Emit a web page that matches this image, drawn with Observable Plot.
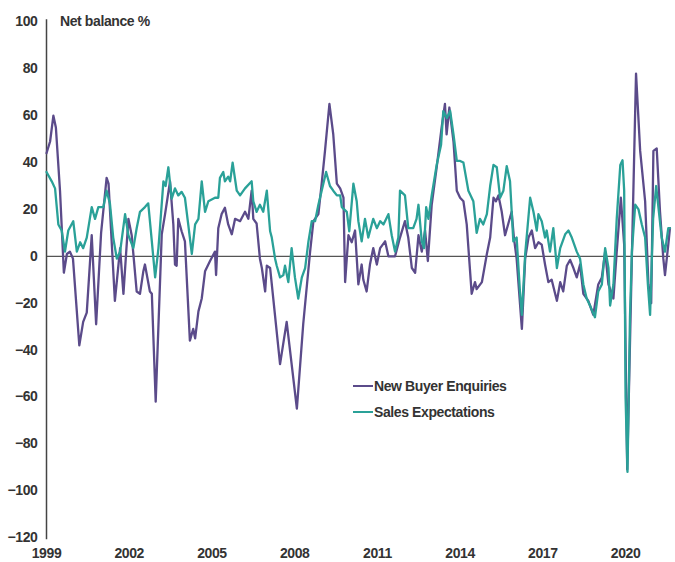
<!DOCTYPE html>
<html><head><meta charset="utf-8">
<script src="https://cdn.jsdelivr.net/npm/d3@7"></script>
<script src="https://cdn.jsdelivr.net/npm/@observablehq/plot@0.6"></script>
<style>
body{margin:0;background:#fff}
#wrap{position:relative;width:675px;height:562px;overflow:hidden;font-family:"Liberation Sans",Arial,sans-serif;font-weight:bold;color:#333}
#wrap svg{position:absolute;left:0;top:0}
.ov{position:absolute;font-size:14px;line-height:18px;white-space:nowrap;letter-spacing:-0.4px}
.sw{display:inline-block;width:20px;height:2px;vertical-align:middle;margin-right:1px;position:relative;top:-1px}
</style></head>
<body><div id="wrap"></div>
<script>
const seriesNames = ["New Buyer Enquiries", "Sales Expectations"];
const seriesColors = ["#5B4B8A", "#2AA198"];
const yTicks = [-120,-100,-80,-60,-40,-20,0,20,40,60,80,100];
const xTicks = [1999,2002,2005,2008,2011,2014,2017,2020];
const yLabel = "Net balance %";

const nbeYears = [
1999.00,1999.13,1999.25,1999.34,1999.49,1999.63,1999.74,1999.85,1999.96,2000.19,
2000.33,2000.46,2000.64,2000.80,2000.98,2001.18,2001.25,2001.48,2001.67,2001.79,
2001.97,2002.09,2002.27,2002.39,2002.51,2002.57,2002.75,2002.82,2002.96,2003.18,
2003.30,2003.48,2003.60,2003.66,2003.72,2003.78,2003.90,2004.02,2004.20,2004.32,
2004.39,2004.51,2004.63,2004.75,2004.93,2005.11,2005.15,2005.23,2005.35,2005.47,
2005.59,2005.72,2005.84,2006.02,2006.20,2006.32,2006.44,2006.50,2006.62,2006.74,
2006.81,2006.93,2006.99,2007.11,2007.47,2007.71,2008.08,2008.31,2008.56,2008.68,
2008.86,2008.98,2009.10,2009.26,2009.40,2009.53,2009.65,2009.77,2009.83,2009.95,
2010.07,2010.19,2010.31,2010.43,2010.49,2010.61,2010.73,2010.85,2010.98,2011.10,
2011.28,2011.40,2011.64,2011.82,2012.00,2012.12,2012.25,2012.37,2012.49,2012.61,
2012.73,2012.83,2012.97,2013.15,2013.33,2013.45,2013.51,2013.61,2013.76,2013.88,
2014.00,2014.12,2014.24,2014.42,2014.54,2014.60,2014.79,2014.97,2015.09,2015.21,
2015.30,2015.39,2015.51,2015.63,2015.75,2015.87,2015.95,2016.05,2016.24,2016.36,
2016.48,2016.60,2016.72,2016.84,2016.96,2017.08,2017.20,2017.32,2017.51,2017.63,
2017.74,2017.87,2017.99,2018.11,2018.23,2018.35,2018.47,2018.65,2018.83,2019.01,
2019.14,2019.26,2019.38,2019.56,2019.68,2019.83,2019.95,2020.06,2020.23,2020.38,
2020.53,2020.71,2020.83,2020.93,2021.01,2021.13,2021.25,2021.37,2021.43,2021.55,2021.61];
const nbeValues = [
44,49,60,55,28,-7,1,2,-1,-38,
-28,-24,9,-29,10,33.5,31,-19,3.5,-16,
16,9,-15,-16,-6.5,-3.5,-15,-16,-62,9.4,
18,32,13.6,-3.5,-4,16,10.7,6.4,-36,-31,
-35,-23.5,-18,-6.4,-2,2,-8,12,18,20.7,
13.6,9.4,16,15,19,16,28,16,14,-1,
-5,-15,-4,-5,-46,-28,-65,-29,2,15,
18,31,45,65,52,31,29,25,-11,9,
6,11,-12,-3.5,-10,-15,-3.5,3.5,-3.5,3.5,
6.4,0,0,8,15,8,-5,-7,9,2,
11,-2,22,38,55,65,52,63.5,49,28,
25,23.5,13.6,-16,-11,-14,-11,1,8,25,
23.5,26,19,9,14,19,8,-1,-31,-1,
8,11,3.5,6,5,-3.5,-11,-10,-19,-11,
-15,-4,-1.5,-5,-9,-3.5,-16,-19,-25,-12,
-9,2,-12,-18,2,25,5,-91,0,78,
45,23.5,-12,-20,45,46,19,-1,-8,5,12];

const seYears = [
1999.00,1999.19,1999.31,1999.43,1999.55,1999.67,1999.79,1999.97,2000.10,2000.22,
2000.33,2000.46,2000.64,2000.76,2000.88,2001.06,2001.18,2001.30,2001.42,2001.55,
2001.67,2001.85,2001.97,2002.15,2002.27,2002.39,2002.57,2002.69,2002.82,2002.94,
2003.06,2003.24,2003.32,2003.42,2003.54,2003.66,2003.78,2003.90,2004.02,2004.14,
2004.27,2004.39,2004.51,2004.63,2004.75,2004.87,2005.11,2005.23,2005.29,2005.41,
2005.47,2005.59,2005.66,2005.75,2005.90,2006.02,2006.20,2006.44,2006.50,2006.62,
2006.74,2006.86,2006.99,2007.11,2007.17,2007.29,2007.35,2007.47,2007.59,2007.65,
2007.77,2007.89,2008.01,2008.13,2008.26,2008.38,2008.50,2008.62,2008.74,2008.86,
2008.98,2009.14,2009.28,2009.40,2009.53,2009.65,2009.71,2009.89,2009.98,2010.13,
2010.25,2010.31,2010.43,2010.55,2010.67,2010.85,2010.98,2011.10,2011.22,2011.40,
2011.52,2011.64,2011.76,2011.82,2012.00,2012.12,2012.30,2012.42,2012.49,2012.61,
2012.69,2012.77,2012.85,2012.97,2013.15,2013.31,2013.39,2013.52,2013.64,2013.76,
2013.88,2014.00,2014.12,2014.30,2014.48,2014.60,2014.72,2014.84,2014.97,2015.09,
2015.21,2015.33,2015.45,2015.57,2015.69,2015.81,2015.93,2016.05,2016.17,2016.24,
2016.36,2016.54,2016.66,2016.78,2016.84,2016.96,2017.08,2017.14,2017.26,2017.38,
2017.51,2017.63,2017.81,2017.93,2018.05,2018.23,2018.35,2018.47,2018.59,2018.71,
2018.89,2019.01,2019.14,2019.26,2019.38,2019.44,2019.56,2019.68,2019.81,2019.89,
2019.95,2020.00,2020.07,2020.16,2020.23,2020.35,2020.47,2020.59,2020.71,2020.81,
2020.89,2021.00,2021.11,2021.31,2021.43,2021.55,2021.61];
const seValues = [
36,32,29,13.6,11,2,11,15,2,6,
3.5,8,21,16,21,21,28,22.6,8,-1,
2,18,9,3.5,12,19,21,22.6,6.4,-9,
3.5,32,30,38,24.6,29,26,27.5,25,13.6,
1,13.6,16,32,19,23.5,25,25,33.5,36,
32,34,32,40,28,26,29,32,23.5,19,
22,19,28,10.7,8,-1,-4,-9,-8,-4,
-11,3.5,-9,-18,-9,-5,6.4,15,15,22,
28,36,30,28,26,26,21,19,10.7,31,
23.5,15,6.4,16,8,16,12,15,13.6,18,
9,2,8,28,26,12,12,16,22,6.4,
3.5,21,16,26,39,47.6,62,59,62,52,
40.7,40.7,40,28,23.5,10,16,13.6,18,30,
39,38,25,28,38.5,32,6.4,8,-15,-25,
1,25,19,11,18,15,8,11,2,12,
-5,3.5,9.4,11,8,2,-1,-12,-18,-21,
-26,-15,-12,3.5,-5,-21,-12,16,39,41,
28,-60,-92,-26,2,22,20,13.6,8,-12,
-25,16,30,8,2,12,12];

const nbe = nbeYears.map((t, i) => ({t, v: nbeValues[i]}));
const se = seYears.map((t, i) => ({t, v: seValues[i]}));

const chart = Plot.plot({
  width: 675, height: 562,
  marginLeft: 46, marginRight: 5, marginTop: 21.5, marginBottom: 25,
  style: {fontFamily: '"Liberation Sans",Arial,sans-serif', fontSize: "14px", fontWeight: "bold", color: "#333", background: "transparent", letterSpacing: "-0.4px"},
  x: {domain: [1999, 2021.63], ticks: xTicks, tickFormat: d => String(d), tickSize: 0, tickPadding: 11, label: null},
  y: {domain: [-120, 100], ticks: yTicks, tickSize: 0, tickPadding: 9, label: null},
  marks: [
    Plot.ruleY([0], {stroke: "#555", strokeWidth: 1.2}),
    Plot.ruleX([1999], {y1: -121, y2: 101, stroke: "#444", strokeWidth: 1.5}),
    Plot.line(nbe, {x: "t", y: "v", stroke: seriesColors[0], strokeWidth: 2.3, strokeLinejoin: "round"}),
    Plot.line(se, {x: "t", y: "v", stroke: seriesColors[1], strokeWidth: 2.3, strokeLinejoin: "round"})
  ]
});
const wrap = document.getElementById("wrap");
wrap.appendChild(chart);

const yl = document.createElement("div");
yl.className = "ov"; yl.textContent = yLabel;
yl.style.left = "60px"; yl.style.top = "12px";
wrap.appendChild(yl);

const legTops = [377, 403];
seriesNames.forEach((name, i) => {
  const d = document.createElement("div");
  d.className = "ov";
  d.style.left = "353px"; d.style.top = legTops[i] + "px";
  d.innerHTML = `<span class="sw" style="background:${seriesColors[i]}"></span>${name}`;
  wrap.appendChild(d);
});
</script></body></html>
